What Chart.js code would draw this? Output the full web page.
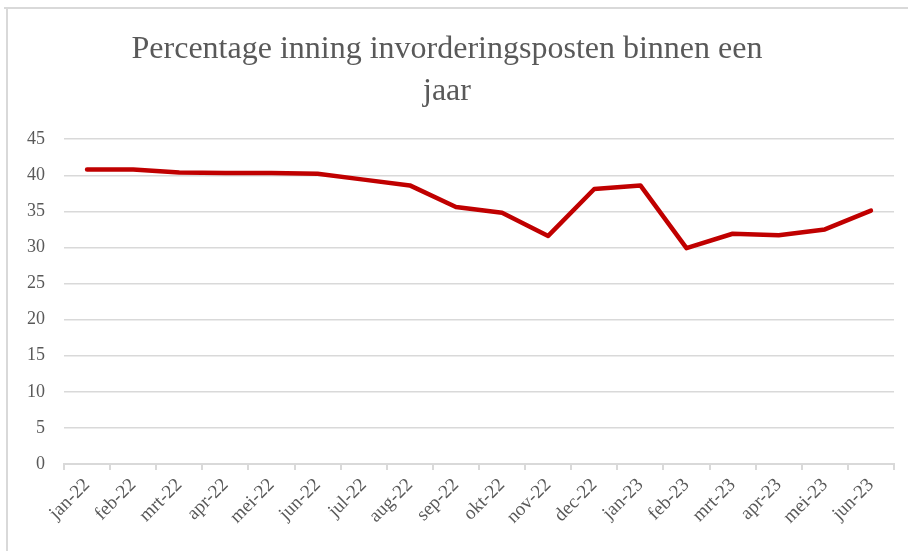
<!DOCTYPE html>
<html>
<head>
<meta charset="utf-8">
<script src="https://cdn.jsdelivr.net/npm/chart.js@4/dist/chart.umd.min.js"></script>
<style>
html,body{margin:0;padding:0;background:#fff;}
#wrap{position:relative;width:908px;height:551px;}
</style>
</head>
<body>
<div id="wrap"><canvas id="c" width="908" height="551"></canvas></div>
<script>
const categories = ["jan-22","feb-22","mrt-22","apr-22","mei-22","jun-22","jul-22","aug-22","sep-22","okt-22","nov-22","dec-22","jan-23","feb-23","mrt-23","apr-23","mei-23","jun-23"];
const percentageValues = [40.8,40.8,40.4,40.3,40.3,40.2,39.4,38.6,35.6,34.8,31.6,38.1,38.6,29.9,31.9,31.7,32.5,35.1];
const yTicks = [0,5,10,15,20,25,30,35,40,45];
const titleLines = ["Percentage inning invorderingsposten binnen een","jaar"];

const frame = {
  id: 'frame',
  beforeDraw(chart){
    const ctx = chart.ctx;
    ctx.save();
    ctx.fillStyle = '#fff';
    ctx.fillRect(0,0,chart.width,chart.height);
    ctx.strokeStyle = '#d9d9d9';
    ctx.lineWidth = 2;
    ctx.beginPath();
    ctx.moveTo(4,8); ctx.lineTo(908,8);
    ctx.moveTo(7,8); ctx.lineTo(7,551);
    ctx.stroke();
    ctx.restore();
  }
};

new Chart(document.getElementById('c'), {
  type: 'line',
  data: {
    labels: categories,
    datasets: [{
      data: percentageValues,
      borderColor: '#C00000',
      borderWidth: 4.5,
      pointRadius: 0,
      tension: 0,
      borderCapStyle: 'round',
      borderJoinStyle: 'round',
      fill: false
    }]
  },
  options: {
    responsive: false,
    animation: false,
    layout: { padding: { left: 0, right: 14, top: 29, bottom: 0 } },
    plugins: {
      legend: { display: false },
      tooltip: { enabled: false },
      title: {
        display: true,
        text: titleLines,
        color: '#595959',
        font: { family: '"Liberation Serif", serif', size: 32, weight: 'normal', lineHeight: 1.3 },
        padding: { top: 0, bottom: 27 }
      }
    },
    scales: {
      x: {
        offset: true,
        grid: { display: true, offset: true, drawOnChartArea: false, drawTicks: true, tickLength: 6, color: '#d9d9d9', lineWidth: 2 },
        border: { display: true, color: '#d9d9d9', width: 2 },
        ticks: {
          color: '#595959',
          font: { family: '"Liberation Serif", serif', size: 19 },
          maxRotation: 45, minRotation: 45,
          autoSkip: false,
          padding: 4
        },
        afterFit(scale){ scale.height = 87; }
      },
      y: {
        min: 0, max: 45,
        afterBuildTicks(scale){ scale.ticks = yTicks.map(v => ({value: v})); },
        grid: { color: '#d9d9d9', lineWidth: 1.5, drawTicks: false },
        border: { display: false },
        ticks: {
          color: '#595959',
          font: { family: '"Liberation Serif", serif', size: 18 },
          padding: 19
        },
        afterFit(scale){ scale.width = 64; }
      }
    }
  },
  plugins: [frame]
});
</script>
</body>
</html>
